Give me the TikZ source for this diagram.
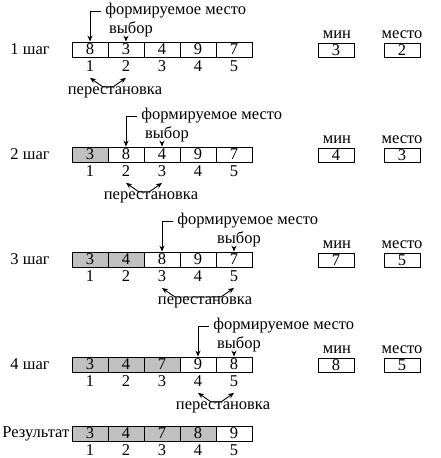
\documentclass[tikz,border=0pt]{standalone}
\usepackage{fontspec}
\setmainfont{Liberation Serif}
\usetikzlibrary{calc,arrows.meta}
\definecolor{sorted}{RGB}{192,192,192}
\tikzset{
  cell/.style={draw, minimum width=36pt, minimum height=15pt, inner sep=0pt},
  small/.style={draw, minimum width=36pt, minimum height=14pt, inner sep=0pt},
  lbl/.style={inner sep=0pt}
}
\begin{document}
\begin{tikzpicture}[x=1pt,y=-1pt,line width=0.9pt,>={Stealth[length=6pt,width=5pt]},font=\fontsize{16.5}{19}\selectfont]
\useasboundingbox (0,0) rectangle (441,458);
\foreach \r/\T/\g/\vals in {1/42/0/{8,3,4,9,7},2/147/1/{3,8,4,9,7},3/252/2/{3,4,8,9,7},4/357/3/{3,4,7,9,8},5/426/4/{3,4,7,8,9}}{
  \fill[sorted] (72,\T) rectangle ++(36*\g,15);
  \foreach \v [count=\i] in \vals
    \node[cell] (a\r-\i) at (54+36*\i,\T+7.5) {\v};
  \foreach \i in {1,...,5}
    \node[lbl] (n\r-\i) at (54+36*\i,\T+24) {\i};
}
\foreach \r/\T/\f/\c/\mn/\ms in {1/42/1/2/3/2,2/147/2/3/4/3,3/252/3/5/7/5,4/357/4/5/8/5}{
  \node[lbl,anchor=west] (step\r) at (10,\T+7.5) {\r\ шаг};
  \node[lbl,anchor=west,inner sep=4pt] (form\r) at (54+36*\f+11,\T-31) {формируемое место};
  \draw[->] (form\r.west) -| (a\r-\f.north);
  \node[lbl] (pick\r) at (54+36*\c+5,\T-13) {выбор};
  \draw[->] (pick\r.south -| a\r-\c.north) -- (a\r-\c.north);
  \draw[<->] ($(n\r-\f.south)+(0,6)$) -- ++(13,9) -- ($(n\r-\c.south)+(-13,15)$) -- ($(n\r-\c.south)+(0,6)$);
  \node[lbl] (swap\r) at ($(n\r-\f)!0.5!(n\r-\c)+(7,26)$) {перестановка};
  \node[lbl] (minlbl\r) at (337,\T-7) {мин};
  \node[small] (min\r) at (336,\T+8) {\mn};
  \node[lbl] (poslbl\r) at (402,\T-7) {место};
  \node[small] (pos\r) at (402,\T+8) {\ms};
}
\node[lbl,anchor=west] (result) at (2,433.5) {Результат};
\end{tikzpicture}
\end{document}
